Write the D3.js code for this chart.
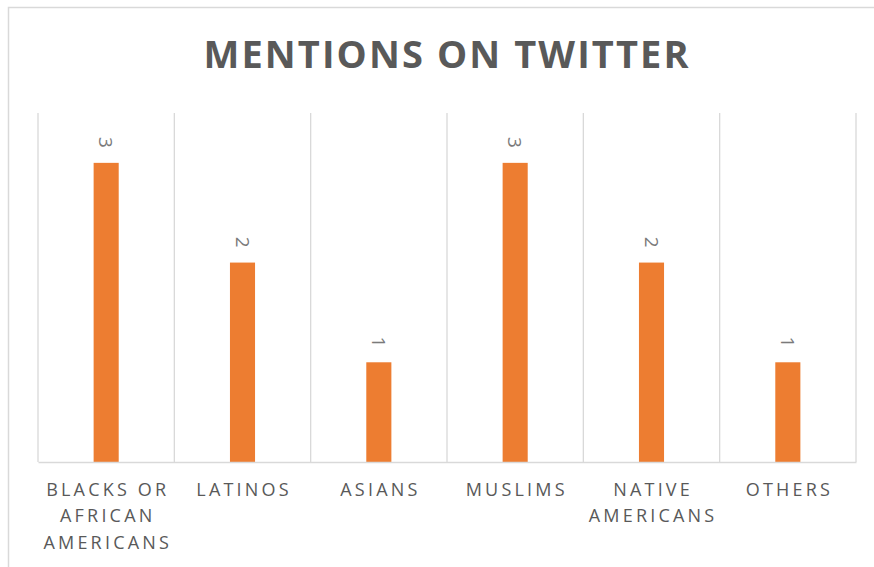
<!DOCTYPE html>
<html><head><meta charset="utf-8">
<script src="https://cdn.jsdelivr.net/npm/d3@7"></script>
<style>
html,body{margin:0;padding:0;background:#fff;}
svg{display:block;}
</style></head>
<body>
<svg id="chart" width="874" height="567"></svg>
<script>
const title = "MENTIONS ON TWITTER";
const categories = ["Blacks or African Americans","Latinos","Asians","Muslims","Native Americans","Others"];
const tickLabels = [["BLACKS OR","AFRICAN","AMERICANS"],["LATINOS"],["ASIANS"],["MUSLIMS"],["NATIVE","AMERICANS"],["OTHERS"]];
const values = [3,2,1,3,2,1];
const yMax = 3.5;

const svg = d3.select("#chart");
const plot = {left:38, right:856, top:113, bottom:462};

// outer frame (extends beyond picture on right/bottom)
svg.append("rect").attr("x",8.5).attr("y",7.5).attr("width",900).attr("height",600)
  .attr("fill","#fff").attr("stroke","#d9d9d9").attr("stroke-width",1.5);

const x = d3.scaleBand().domain(categories).range([plot.left, plot.right]).paddingInner(0).paddingOuter(0);
const y = d3.scaleLinear().domain([0,yMax]).range([plot.bottom, plot.top]);

// vertical category gridlines
const bounds = categories.map(c=>x(c)).concat([plot.right]);
svg.append("g").selectAll("line").data(bounds).join("line")
  .attr("x1",d=>d).attr("x2",d=>d).attr("y1",y(yMax)).attr("y2",y(0))
  .attr("stroke","#d9d9d9").attr("stroke-width",1.3);

// bars
const barW = x.bandwidth()*0.184;
svg.append("g").selectAll("rect").data(values).join("rect")
  .attr("x",(d,i)=>x(categories[i])+x.bandwidth()/2-barW/2)
  .attr("width",barW)
  .attr("y",d=>y(d)).attr("height",d=>y(0)-y(d))
  .attr("fill","#ed7d31");

// baseline axis
const xAxis = d3.axisBottom(x).tickSize(0).tickFormat("");
const ax = svg.append("g").attr("transform",`translate(0,${y(0)})`).call(xAxis);
ax.select(".domain").attr("stroke","#d9d9d9").attr("stroke-width",1.5);

// data labels rotated
svg.append("g").selectAll("text").data(values).join("text")
  .attr("transform",(d,i)=>`translate(${x(categories[i])+x.bandwidth()/2},${y(d)-15}) rotate(90)`)
  .attr("text-anchor","end").attr("dy","0.36em")
  .attr("font-family","'Open Sans', sans-serif").attr("font-size",19)
  .attr("fill","#7a7a7a").text(d=>d);

// category labels
const ls = 3.2;
const lab = svg.append("g").attr("font-family","'Open Sans', sans-serif").attr("font-size",18).attr("fill","#595959");
tickLabels.forEach((lines,i)=>{
  const cx = x(categories[i])+x.bandwidth()/2;
  lines.forEach((t,j)=>{
    lab.append("text").attr("x",cx+ls/2).attr("y",495.7+j*26.7)
      .attr("text-anchor","middle").style("letter-spacing",ls+"px").text(t);
  });
});

// title
const tt = svg.append("text").attr("x",446).attr("y",68)
  .attr("text-anchor","middle").attr("font-family","'Open Sans', sans-serif")
  .attr("font-weight","bold").attr("font-size",38).attr("fill","#595959").text(title);
const nat = tt.node().getComputedTextLength();
const target = 485;
const tls = (target - nat)/(title.length-1);
tt.style("letter-spacing",tls+"px").attr("x",446+tls/2);
</script>
</body></html>
